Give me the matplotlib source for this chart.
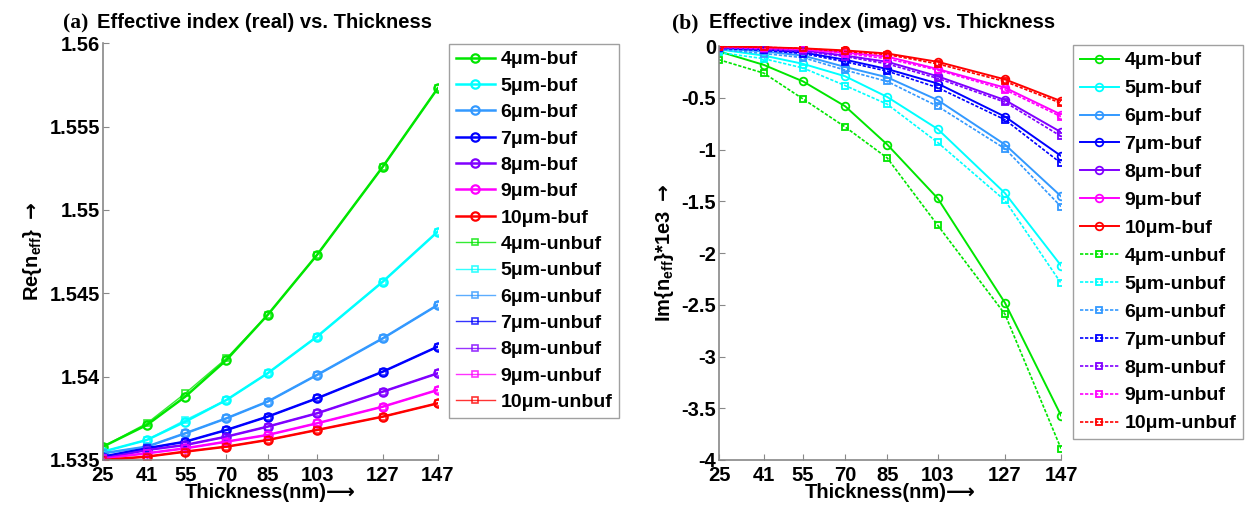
import matplotlib
matplotlib.use("Agg")
import matplotlib.pyplot as plt
import matplotlib.ticker as tkr

plt.rcParams['font.family'] = ['Liberation Sans', 'DejaVu Sans']
plt.rcParams['font.weight'] = 'bold'
plt.rcParams['mathtext.fontset'] = 'custom'
plt.rcParams['mathtext.rm'] = 'Liberation Sans:bold'
plt.rcParams['mathtext.bf'] = 'Liberation Sans:bold'
plt.rcParams['mathtext.sf'] = 'DejaVu Sans'
plt.rcParams['mathtext.default'] = 'bf'

thickness = [25, 41, 55, 70, 85, 103, 127, 147]
widths = ["4", "5", "6", "7", "8", "9", "10"]
colors = ["#00e600", "#00ffff", "#3399ff", "#0000ff", "#8000ff", "#ff00ff", "#ff0000"]

# real part of n_eff
re_buf = [
    [1.5358, 1.5371, 1.5388, 1.5410, 1.5437, 1.5473, 1.5526, 1.5573],
    [1.5355, 1.5362, 1.5373, 1.5386, 1.5402, 1.5424, 1.5457, 1.5487],
    [1.5354, 1.5358, 1.5366, 1.5375, 1.5385, 1.5401, 1.5423, 1.5443],
    [1.5352, 1.5357, 1.5361, 1.5368, 1.5376, 1.5387, 1.5403, 1.5418],
    [1.5351, 1.5356, 1.5359, 1.5364, 1.5370, 1.5378, 1.5391, 1.5402],
    [1.5351, 1.5354, 1.5357, 1.5361, 1.5365, 1.5372, 1.5382, 1.5392],
    [1.5350, 1.5352, 1.5355, 1.5358, 1.5362, 1.5368, 1.5376, 1.5384],
]
re_unbuf = [
    [1.5358, 1.5372, 1.5390, 1.5411, 1.5437, 1.5473, 1.5526, 1.5573],
    [1.5355, 1.5362, 1.5374, 1.5386, 1.5402, 1.5424, 1.5457, 1.5487],
    [1.5354, 1.5358, 1.5366, 1.5375, 1.5385, 1.5401, 1.5423, 1.5443],
    [1.5352, 1.5357, 1.5361, 1.5368, 1.5376, 1.5387, 1.5403, 1.5418],
    [1.5351, 1.5356, 1.5359, 1.5364, 1.5370, 1.5378, 1.5391, 1.5402],
    [1.5351, 1.5354, 1.5357, 1.5361, 1.5365, 1.5372, 1.5382, 1.5392],
    [1.5350, 1.5352, 1.5355, 1.5358, 1.5362, 1.5368, 1.5376, 1.5384],
]

# imaginary part of n_eff, times 1e3
im_buf = [
    [-0.05, -0.18, -0.34, -0.58, -0.95, -1.47, -2.48, -3.57],
    [-0.03, -0.09, -0.17, -0.29, -0.49, -0.80, -1.42, -2.12],
    [-0.02, -0.05, -0.09, -0.20, -0.30, -0.52, -0.95, -1.45],
    [-0.01, -0.03, -0.06, -0.13, -0.22, -0.36, -0.68, -1.06],
    [-0.01, -0.02, -0.04, -0.09, -0.15, -0.29, -0.52, -0.83],
    [-0.005, -0.01, -0.03, -0.06, -0.10, -0.22, -0.40, -0.66],
    [0.0, -0.01, -0.02, -0.04, -0.07, -0.15, -0.32, -0.53],
]
im_unbuf = [
    [-0.13, -0.26, -0.51, -0.78, -1.08, -1.73, -2.59, -3.89],
    [-0.06, -0.12, -0.21, -0.38, -0.56, -0.93, -1.49, -2.29],
    [-0.03, -0.07, -0.11, -0.23, -0.34, -0.58, -0.99, -1.55],
    [-0.02, -0.04, -0.07, -0.15, -0.24, -0.40, -0.71, -1.13],
    [-0.01, -0.03, -0.05, -0.10, -0.17, -0.31, -0.54, -0.87],
    [-0.01, -0.02, -0.03, -0.07, -0.12, -0.23, -0.42, -0.68],
    [-0.005, -0.01, -0.02, -0.05, -0.08, -0.17, -0.34, -0.55],
]


def fmt(x, pos):
    return "%g" % round(x, 4)


def style_axes(ax):
    for s in ["top", "right"]:
        ax.spines[s].set_visible(False)
    for s in ["left", "bottom"]:
        ax.spines[s].set_color("#888888")
        ax.spines[s].set_linewidth(1.2)
    ax.tick_params(direction="in", length=4, color="#888888", labelsize=14.5, pad=2)
    ax.tick_params(axis="x", pad=4)
    ax.set_xticks(thickness)
    ax.set_xlim(25, 147)
    ax.yaxis.set_major_formatter(tkr.FuncFormatter(fmt))
    ax.set_xlabel("Thickness(nm)\u27f6", fontsize=14.5, fontweight="bold", labelpad=-1)


fig = plt.figure(figsize=(12.54, 5.12), dpi=100)
ax1 = fig.add_axes([0.0821, 0.1016, 0.267, 0.814])
ax2 = fig.add_axes([0.5734, 0.1016, 0.2727, 0.808])

for i in range(len(widths)):
    ax1.plot(thickness, re_buf[i], "-o", color=colors[i], lw=1.8, ms=6, mew=1.6,
             mfc="none", label=widths[i] + "\u03bcm-buf")
for i in range(len(widths)):
    ax1.plot(thickness, re_unbuf[i], "-s", color=colors[i], lw=1.0, ms=4.5, mew=1.2,
             mfc="none", alpha=0.8, label=widths[i] + "\u03bcm-unbuf")

for i in range(len(widths)):
    ax2.plot(thickness, im_buf[i], "-o", color=colors[i], lw=1.4, ms=5.5, mew=1.3,
             mfc="none", label=widths[i] + "\u03bcm-buf")
for i in range(len(widths)):
    ax2.plot(thickness, im_unbuf[i], "--s", color=colors[i], lw=1.2, ms=4.5, mew=1.3,
             mfc="none", dashes=(2, 1), label=widths[i] + "\u03bcm-unbuf")

style_axes(ax1)
style_axes(ax2)
ax1.set_ylim(1.535, 1.56)
ax1.set_yticks([1.535, 1.54, 1.545, 1.55, 1.555, 1.56])
ax2.set_ylim(-4, 0)
ax2.set_yticks([-4, -3.5, -3, -2.5, -2, -1.5, -1, -0.5, 0])

ax1.set_ylabel(r"Re{n$_{eff}$} $\mathsf{\rightarrow}$", fontsize=14.5, fontweight="bold", labelpad=4)
ax2.set_ylabel(r"Im{n$_{eff}$}*1e3 $\mathsf{\rightarrow}$", fontsize=14.5, fontweight="bold", labelpad=4)

for ax, anchor, sp in [(ax1, (0.358, 0.914), 0.45), (ax2, (0.8557, 0.912), 0.53)]:
    leg = ax.legend(loc="upper left", bbox_to_anchor=anchor, bbox_transform=fig.transFigure,
                    fontsize=14, frameon=True, fancybox=False, handlelength=2.0,
                    handletextpad=0.3, labelspacing=sp, borderpad=0.35, borderaxespad=0)
    leg.get_frame().set_edgecolor("#888888")
    leg.get_frame().set_linewidth(1.0)
    for t in leg.get_texts():
        t.set_fontweight("bold")

# titles: serif panel letter + sans text
fig.text(0.050, 0.945, "(a)", family=["Liberation Serif"], fontsize=15.5, fontweight="bold")
fig.text(0.077, 0.945, "Effective index (real) vs. Thickness", fontsize=14.5, fontweight="bold")
fig.text(0.536, 0.945, "(b)", family=["Liberation Serif"], fontsize=15.5, fontweight="bold")
fig.text(0.565, 0.945, "Effective index (imag) vs. Thickness", fontsize=14.5, fontweight="bold")

fig.savefig("out.png", dpi=100)
